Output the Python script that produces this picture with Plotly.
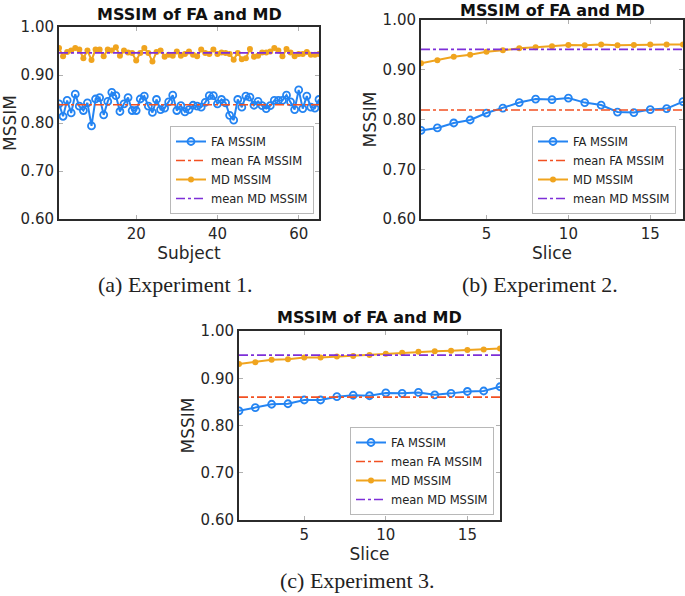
import plotly.graph_objects as go

# ---------------- data ----------------
subjects = list(range(1, 66))
fa_exp1 = [0.840, 0.814, 0.847, 0.821, 0.860, 0.835, 0.826, 0.842, 0.794, 0.850,
           0.853, 0.817, 0.845, 0.864, 0.857, 0.824, 0.840, 0.853, 0.826, 0.826,
           0.850, 0.856, 0.835, 0.822, 0.849, 0.828, 0.831, 0.844, 0.858, 0.826,
           0.836, 0.823, 0.828, 0.837, 0.835, 0.833, 0.843, 0.857, 0.857, 0.840,
           0.849, 0.842, 0.816, 0.806, 0.849, 0.833, 0.856, 0.854, 0.837, 0.845,
           0.836, 0.830, 0.836, 0.847, 0.847, 0.847, 0.858, 0.844, 0.828, 0.869,
           0.830, 0.856, 0.833, 0.831, 0.849]
md_exp1 = [0.956, 0.939, 0.948, 0.951, 0.956, 0.953, 0.935, 0.951, 0.931, 0.953,
           0.953, 0.939, 0.953, 0.951, 0.958, 0.940, 0.951, 0.947, 0.946, 0.930,
           0.946, 0.956, 0.946, 0.928, 0.948, 0.951, 0.938, 0.942, 0.940, 0.949,
           0.940, 0.944, 0.949, 0.942, 0.939, 0.953, 0.946, 0.944, 0.953, 0.944,
           0.947, 0.946, 0.944, 0.932, 0.946, 0.933, 0.935, 0.954, 0.938, 0.940,
           0.947, 0.947, 0.949, 0.956, 0.951, 0.939, 0.954, 0.947, 0.939, 0.944,
           0.944, 0.948, 0.942, 0.942, 0.944]
mean_fa_exp1 = 0.838
mean_md_exp1 = 0.946

slices = list(range(1, 18))
fa_exp2 = [0.778, 0.783, 0.793, 0.799, 0.813, 0.823, 0.834, 0.841, 0.840, 0.843,
           0.834, 0.829, 0.815, 0.814, 0.820, 0.822, 0.836]
md_exp2 = [0.913, 0.919, 0.926, 0.930, 0.936, 0.939, 0.943, 0.945, 0.947, 0.950,
           0.949, 0.951, 0.949, 0.950, 0.951, 0.951, 0.951]
mean_fa_exp2 = 0.819
mean_md_exp2 = 0.941

fa_exp3 = [0.831, 0.838, 0.845, 0.846, 0.854, 0.854, 0.861, 0.864, 0.863, 0.869,
           0.868, 0.870, 0.865, 0.868, 0.872, 0.873, 0.882]
md_exp3 = [0.930, 0.934, 0.939, 0.940, 0.944, 0.944, 0.946, 0.947, 0.949, 0.952,
           0.954, 0.956, 0.957, 0.958, 0.960, 0.961, 0.963]
mean_fa_exp3 = 0.860
mean_md_exp3 = 0.949

y_ticks = [0.60, 0.70, 0.80, 0.90, 1.00]
x_ticks_exp1 = [20, 40, 60]
x_ticks_slice = [5, 10, 15]
panel_title = "MSSIM of FA and MD"
captions = ["(a) Experiment 1.", "(b) Experiment 2.", "(c) Experiment 3."]
x_titles = ["Subject", "Slice", "Slice"]

# ---------------- style ----------------
W, H = 685, 596
FA_C = "#2484F2"
MD_C = "#F0A41E"
MFA_C = "#F25022"
MMD_C = "#7D2FD8"
SANS = "DejaVu Sans"
SERIF = "Liberation Serif"

def px_x(p):
    return p / W

def px_y(p):
    return 1 - p / H

panels = [
    dict(x=subjects, fa=fa_exp1, md=md_exp1, mfa=mean_fa_exp1, mmd=mean_md_exp1,
         xr=[1, 65], xt=x_ticks_exp1, box=(59, 319, 27, 219), leg=(314, 214),
         title_y=14, cap=(175, 284), xtitle=x_titles[0]),
    dict(x=slices, fa=fa_exp2, md=md_exp2, mfa=mean_fa_exp2, mmd=mean_md_exp2,
         xr=[1, 17], xt=x_ticks_slice, box=(421, 683, 20, 219), leg=(676, 214),
         title_y=10, cap=(540, 284), xtitle=x_titles[1]),
    dict(x=slices, fa=fa_exp3, md=md_exp3, mfa=mean_fa_exp3, mmd=mean_md_exp3,
         xr=[1, 17], xt=x_ticks_slice, box=(239, 500, 331, 520), leg=(494, 515),
         title_y=317, cap=(357, 580), xtitle=x_titles[2]),
]

fig = go.Figure()
annotations = []
layout_extra = {}

for i, p in enumerate(panels):
    n = "" if i == 0 else str(i + 1)
    xa, ya = "x" + n, "y" + n
    lg = "legend" + n
    xs = p["x"]
    fig.add_trace(go.Scatter(x=xs, y=p["fa"], xaxis=xa, yaxis=ya, legend=lg,
                             name="FA MSSIM", mode="lines+markers",
                             line=dict(color=FA_C, width=2),
                             marker=dict(symbol="circle-open", size=7, color=FA_C,
                                         line=dict(width=1.8, color=FA_C))))
    fig.add_trace(go.Scatter(x=[xs[0], xs[-1]], y=[p["mfa"], p["mfa"]], xaxis=xa, yaxis=ya,
                             legend=lg, name="mean FA MSSIM", mode="lines",
                             line=dict(color=MFA_C, width=1.6, dash="dashdot")))
    fig.add_trace(go.Scatter(x=xs, y=p["md"], xaxis=xa, yaxis=ya, legend=lg,
                             name="MD MSSIM", mode="lines+markers",
                             line=dict(color=MD_C, width=2),
                             marker=dict(symbol="circle", size=6, color=MD_C)))
    fig.add_trace(go.Scatter(x=[xs[0], xs[-1]], y=[p["mmd"], p["mmd"]], xaxis=xa, yaxis=ya,
                             legend=lg, name="mean MD MSSIM", mode="lines",
                             line=dict(color=MMD_C, width=1.6, dash="dashdot")))

    x0, x1, y0, y1 = p["box"]
    axis_common = dict(showline=True, linecolor="#2b2b2b", linewidth=2, mirror="ticks",
                       ticks="inside", ticklen=4, tickcolor="#b0b0b0", tickwidth=1,
                       showgrid=False, zeroline=False, automargin=False,
                       tickfont=dict(family=SANS, size=15, color="#262626"))
    layout_extra["xaxis" + n] = dict(axis_common, domain=[px_x(x0), px_x(x1)], anchor=ya,
                                     range=p["xr"], tickvals=p["xt"],
                                     title=dict(text=p["xtitle"], standoff=2,
                                                font=dict(family=SANS, size=17, color="#262626")))
    layout_extra["yaxis" + n] = dict(axis_common, domain=[px_y(y1), px_y(y0)], anchor=xa,
                                     range=[0.6, 1.0], tickvals=y_ticks, tickformat=".2f",
                                     title=dict(text="MSSIM", standoff=2,
                                                font=dict(family=SANS, size=17, color="#262626")))
    layout_extra[lg] = dict(x=px_x(p["leg"][0]), y=px_y(p["leg"][1]), xanchor="right",
                            yanchor="bottom", bgcolor="white", bordercolor="#b8b8b8",
                            borderwidth=1, font=dict(family=SANS, size=11.5, color="#222"),
                            itemwidth=30, tracegroupgap=0)
    annotations.append(dict(text="<b>" + panel_title + "</b>", xref="paper", yref="paper",
                            x=px_x((x0 + x1) / 2), y=px_y(p["title_y"]), showarrow=False,
                            xanchor="center", yanchor="middle",
                            font=dict(family=SANS, size=16, color="#111")))
    annotations.append(dict(text=captions[i], xref="paper", yref="paper",
                            x=px_x(p["cap"][0]), y=px_y(p["cap"][1]), showarrow=False,
                            xanchor="center", yanchor="middle",
                            font=dict(family=SERIF, size=22, color="#222")))

fig.update_layout(width=W, height=H, margin=dict(l=0, r=0, t=0, b=0, autoexpand=False),
                  paper_bgcolor="white", plot_bgcolor="white",
                  annotations=annotations, **layout_extra)

fig.write_html("out.html", config={"displayModeBar": False},
               post_script="document.body.style.margin='0px';")
